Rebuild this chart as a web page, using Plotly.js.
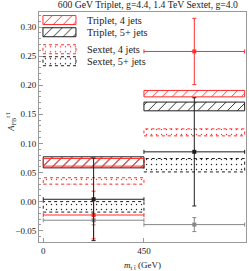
<!DOCTYPE html>
<html>
<head>
<meta charset="utf-8">
<script src="https://cdn.plot.ly/plotly-3.0.1.min.js"></script>
<style>html,body{margin:0;padding:0;background:#fff;}#chart{width:249px;height:271px;}</style>
</head>
<body>
<div id="chart"></div>
<script>
// ---- data ----
const binEdges = [0, 450, 900];
const triplet4Lo = [0.061, 0.180];
const triplet4Hi = [0.074, 0.191];
const triplet5Lo = [0.058, 0.156];
const triplet5Hi = [0.077, 0.171];
const sextet4Lo = [0.030, 0.113];
const sextet4Hi = [0.041, 0.125];
const sextet5Lo = [-0.018, 0.051];
const sextet5Hi = [0.000, 0.074];
const redVal = [-0.023, 0.258];
const redErr = [0.041, 0.057];
const blackVal = [0.004, 0.0855];
const blackErr = [0.071, 0.093];
const grayVal = [-0.032, -0.0395];
const grayErr = [0.008, 0.012];
const yTickVals = [-0.05, 0, 0.05, 0.10, 0.15, 0.20, 0.25, 0.30];
const xTickVals = [0, 450];
const seriesNames = ["Triplet, 4 jets", "Triplet, 5+ jets", "Sextet, 4 jets", "Sextet, 5+ jets"];

const RED = "rgb(255,45,45)";
const BLACK = "rgb(30,30,30)";
const GRAY = "rgb(135,135,135)";
const FONT = "Liberation Serif, Times New Roman, serif";

const centers = binEdges.slice(0, -1).map((e, i) => (e + binEdges[i + 1]) / 2);
const halfW = binEdges.slice(0, -1).map((e, i) => (binEdges[i + 1] - e) / 2);

function boxes(lo, hi) {
  const x = [], y = [];
  for (let i = 0; i < lo.length; i++) {
    const x0 = binEdges[i], x1 = binEdges[i + 1];
    x.push(x0, x1, x1, x0, x0, null);
    y.push(lo[i], lo[i], hi[i], hi[i], lo[i], null);
  }
  return {x, y};
}

function boxTrace(lo, hi, name, color, shape, dash, legendId) {
  const b = boxes(lo, hi);
  const hatch = shape === "/";
  return {
    type: "scatter", mode: "lines", x: b.x, y: b.y, name: name,
    fill: "toself", fillcolor: "rgba(0,0,0,0)",
    fillpattern: {shape: shape, fgcolor: color, bgcolor: "rgba(0,0,0,0)",
                  size: hatch ? 7 : 5, solidity: hatch ? 0.13 : 0.06, fillmode: "replace"},
    line: {color: color, width: 1, dash: dash},
    legend: legendId, showlegend: true, hoverinfo: "skip"
  };
}

function errTrace(vals, errs, color) {
  return {
    type: "scatter", mode: "markers", x: centers, y: vals,
    marker: {color: color, size: 4, symbol: "square"},
    error_x: {type: "data", array: halfW, color: color, thickness: 1, width: 2},
    error_y: {type: "data", array: errs, color: color, thickness: 1, width: 2},
    showlegend: false, hoverinfo: "skip"
  };
}

const traces = [
  boxTrace(sextet4Lo, sextet4Hi, seriesNames[2], RED, ".", "dot", "legend3"),
  boxTrace(sextet5Lo, sextet5Hi, seriesNames[3], BLACK, ".", "dot", "legend4"),
  boxTrace(triplet5Lo, triplet5Hi, seriesNames[1], BLACK, "/", "solid", "legend2"),
  boxTrace(triplet4Lo, triplet4Hi, seriesNames[0], RED, "/", "solid", "legend"),
  errTrace(grayVal, grayErr, GRAY),
  errTrace(redVal, redErr, RED),
  errTrace(blackVal, blackErr, BLACK)
];

function leg(y) {
  return {x: -0.005, xanchor: "left", y: y, yanchor: "middle", bgcolor: "rgba(0,0,0,0)",
          borderwidth: 0, font: {family: FONT, size: 10.3, color: "#222"}, itemwidth: 39};
}

const layout = {
  width: 249, height: 271,
  margin: {l: 39, r: 3, t: 12, b: 29},
  paper_bgcolor: "#fff", plot_bgcolor: "#fff",
  font: {family: FONT, size: 9, color: "#222"},
  title: {text: "600 GeV Triplet, g=4.4, 1.4 TeV Sextet, g=4.0",
          font: {family: FONT, size: 9.7, color: "#222"},
          xref: "container", x: 0.594, xanchor: "center",
          yref: "container", y: 0.997, yanchor: "top", pad: {t: 0, b: 0}},
  xaxis: {range: [-19, 906], tickvals: xTickVals, ticktext: xTickVals.map(String),
          ticks: "inside", ticklen: 4, tickcolor: "#999", showline: true, linecolor: "#999",
          linewidth: 1, mirror: true, showgrid: false, zeroline: false,
          tickfont: {family: FONT, size: 9, color: "#222"},
          title: {text: "<i>m</i><sub>t t̄</sub> (GeV)", font: {family: FONT, size: 9, color: "#222"}, standoff: 11}},
  yaxis: {range: [-0.0694, 0.3258], tickvals: yTickVals, tickformat: ".2f",
          ticks: "inside", ticklen: 4, tickcolor: "#999", showline: true, linecolor: "#999",
          linewidth: 1, mirror: true, showgrid: false, zeroline: false,
          minor: {dtick: 0.01, ticks: "inside", ticklen: 2, tickcolor: "#999", showgrid: false},
          tickfont: {family: FONT, size: 9, color: "#222"}},
  annotations: [{
    text: "<i>A</i><sub>FB</sub><sup>t t̄</sup>", textangle: -90,
    xref: "paper", yref: "paper", x: -0.135, y: 0.522, xanchor: "center", yanchor: "middle",
    showarrow: false, font: {family: FONT, size: 9, color: "#222"}
  }],
  legend: leg(0.965),
  legend2: leg(0.912),
  legend3: leg(0.838),
  legend4: leg(0.786),
  showlegend: true
};

Plotly.newPlot("chart", traces, layout, {staticPlot: true, displayModeBar: false}).then(gd => {
  // plot-area fill paths, one per trace, in trace order
  const plotFills = Array.from(gd.querySelectorAll(".scatterlayer .trace")).map(g => g.querySelector("path.js-fill"));
  // enlarge legend swatches into full outlined rectangles like the reference
  gd.querySelectorAll("g.traces").forEach(item => {
    const rect = "M5,-4.5h33v9h-33z";
    let idx = -1;
    try { idx = item.__data__[0].trace.index; } catch (e) {}
    item.querySelectorAll("path.js-fill").forEach(p => {
      p.setAttribute("d", rect);
      const src = idx >= 0 ? plotFills[idx] : null;
      if (src && src.style.fill) p.style.fill = src.style.fill;
    });
    item.querySelectorAll("path.js-line").forEach(p => { p.setAttribute("d", rect); p.style.fill = "none"; });
  });
  gd.querySelectorAll(".scrollbox").forEach(s => s.removeAttribute("clip-path"));
});
</script>
</body>
</html>
